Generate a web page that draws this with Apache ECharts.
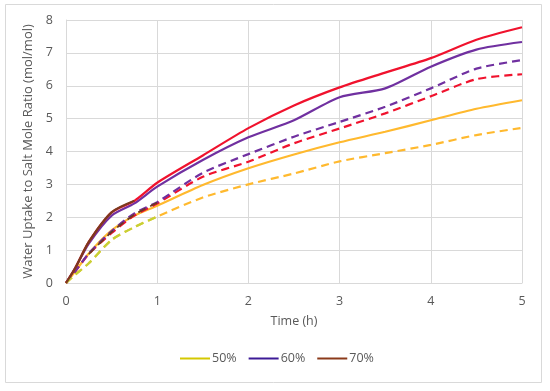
<!DOCTYPE html>
<html><head><meta charset="utf-8">
<script src="https://cdn.jsdelivr.net/npm/echarts@6/dist/echarts.min.js"></script>
<style>html,body{margin:0;padding:0;background:#fff}#c{width:550px;height:391px}</style>
</head><body><div id="c"></div>
<script>
var times = [0, 0.1, 0.25, 0.5, 0.75, 1, 1.5, 2, 2.5, 3, 3.5, 4, 4.5, 5];
var redSolid     = [0, 0.45, 1.25, 2.15, 2.5, 3.05, 3.88, 4.71, 5.4, 5.95, 6.4, 6.84, 7.4, 7.78];
var purpleSolid  = [0, 0.45, 1.2, 2.05, 2.42, 2.93, 3.74, 4.43, 4.95, 5.65, 5.92, 6.58, 7.1, 7.33];
var purpleDashed = [0, 0.35, 0.9, 1.58, 2.12, 2.46, 3.35, 3.92, 4.45, 4.9, 5.36, 5.92, 6.52, 6.78];
var redDashed    = [0, 0.35, 0.88, 1.52, 2.05, 2.42, 3.23, 3.69, 4.25, 4.7, 5.16, 5.68, 6.2, 6.35];
var orangeSolid  = [0, 0.35, 0.9, 1.6, 2.05, 2.35, 2.98, 3.49, 3.91, 4.28, 4.6, 4.95, 5.3, 5.56];
var orangeDashed = [0, 0.25, 0.6, 1.31, 1.7, 2.02, 2.6, 3.0, 3.33, 3.7, 3.95, 4.2, 4.5, 4.72];
// legend series (early-time overlays)
var s50 = [0, 0.25, 0.6, 1.31, 1.7, 2.02];
var s60 = [];
var s70 = [0, 0.45, 1.25, 2.15, 2.5];
var s70b = [null, null, 0.88, 1.55, 2.08, 2.44];
var yTicks = [0,1,2,3,4,5,6,7,8];

function pairs(vals){ var o=[]; for(var i=0;i<vals.length;i++){ if(vals[i]!==null && vals[i]!==undefined) o.push([times[i], vals[i]]);} return o; }

var chart = echarts.init(document.getElementById('c'), null, {renderer:'canvas'});
var font = '"Open Sans", "Liberation Sans", sans-serif';
function line(name, data, color, dashed, legend, w){
  return {name:name, type:'line', data:pairs(data), smooth:0.25, symbol:'none',
    lineStyle:{color:color, width:w||2.2, type: dashed ? [8,5] : 'solid'},
    itemStyle:{color:color}, silent:true, z: legend?5:3};
}
chart.setOption({
  animation:false,
  backgroundColor:'#fff',
  graphic:[{type:'rect', shape:{x:5.5,y:4.5,width:536,height:378}, style:{fill:'none', stroke:'#d9d9d9', lineWidth:1}, z:-1}],
  grid:{left:66, right:28, top:20, bottom:108},
  legend:{data:[
      {name:'50%', itemStyle:{color:'#D4C800'}},
      {name:'60%', itemStyle:{color:'#3C1A96'}},
      {name:'70%', itemStyle:{color:'#8B3A1A'}}],
    bottom:21, left:175, itemWidth:30, itemHeight:2, itemGap:12,
    textStyle:{color:'#595959', fontSize:12.5, fontFamily:font, padding:[0,0,0,-3]}, icon:'rect'},
  xAxis:{type:'value', min:0, max:5, interval:1, name:'Time (h)', nameLocation:'middle', nameGap:32,
    nameTextStyle:{color:'#595959', fontSize:12.5, fontFamily:font},
    axisLine:{lineStyle:{color:'#d9d9d9'}}, axisTick:{show:false},
    axisLabel:{color:'#595959', fontSize:12.5, fontFamily:font, margin:12},
    splitLine:{lineStyle:{color:'#d9d9d9'}}},
  yAxis:{type:'value', min:0, max:8, interval:1, name:'Water Uptake to Salt Mole Ratio (mol/mol)', nameLocation:'middle', nameGap:30,
    nameTextStyle:{color:'#595959', fontSize:13, fontFamily:font},
    axisLine:{show:true, lineStyle:{color:'#d9d9d9'}}, axisTick:{show:false},
    axisLabel:{color:'#595959', fontSize:12.5, fontFamily:font, margin:13},
    splitLine:{lineStyle:{color:'#d9d9d9'}}},
  series:[
    line('os', orangeDashed, '#FFB92E', true),
    line('od', orangeSolid, '#FFB92E', false),
    line('rd', redDashed, '#F0122D', true),
    line('pd', purpleDashed, '#7030A0', true),
    line('ps', purpleSolid, '#7030A0', false),
    line('rs', redSolid, '#F0122D', false),
    line('50%', s50, '#C5D235', true, true),
    line('60%', s60, '#3C1A96', false, true),
    line('70%', s70, '#7B3A1E', false, true),
    line('70b', s70b, '#6B3A22', true, true, 1.8)
  ]
});
</script></body></html>
